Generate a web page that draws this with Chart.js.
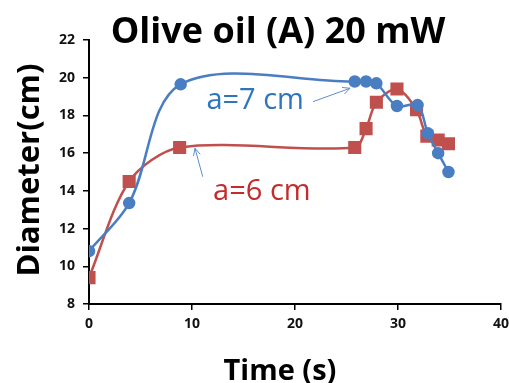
<!DOCTYPE html>
<html>
<head>
<meta charset="utf-8">
<script src="https://cdn.jsdelivr.net/npm/chart.js@4"></script>
<style>
  body { margin: 0; background: #fff; }
  canvas { display: block; }
</style>
</head>
<body>
<canvas id="chart" width="509" height="383"></canvas>
<script>
// data
const timeA7 = [0, 3.9, 8.9, 25.8, 26.9, 27.9, 29.9, 31.9, 32.9, 33.9, 34.9];
const diamA7 = [10.8, 13.35, 19.65, 19.8, 19.8, 19.7, 18.5, 18.55, 17.05, 16.0, 15.0];
const timeA6 = [0, 3.9, 8.8, 25.8, 26.9, 27.9, 29.9, 31.8, 32.8, 33.9, 34.9];
const diamA6 = [9.4, 14.5, 16.3, 16.3, 17.3, 18.7, 19.4, 18.3, 16.9, 16.7, 16.5];
const xTicks = [0, 10, 20, 30, 40];
const yTicks = [8, 10, 12, 14, 16, 18, 20, 22];

const blue = '#4A7EC2';
const red = '#C0504D';
const font = '"Open Sans", "Liberation Sans", sans-serif';

function toPoints(xs, ys) {
    return xs.map((x, i) => ({ x: x, y: ys[i] }));
}

function arrow(ctx, x1, y1, x2, y2) {
    const a = Math.atan2(y2 - y1, x2 - x1);
    const h = 8;
    ctx.beginPath();
    ctx.moveTo(x1, y1);
    ctx.lineTo(x2, y2);
    ctx.moveTo(x2 - h * Math.cos(a - 0.45), y2 - h * Math.sin(a - 0.45));
    ctx.lineTo(x2, y2);
    ctx.lineTo(x2 - h * Math.cos(a + 0.45), y2 - h * Math.sin(a + 0.45));
    ctx.stroke();
}

// titles and the two labels with arrows
const extras = {
    id: 'extras',
    afterDraw(chart) {
        const ctx = chart.ctx;
        const xs = chart.scales.x, ys = chart.scales.y;
        const px = v => xs.getPixelForValue(v);
        const py = v => ys.getPixelForValue(v);
        ctx.save();

        ctx.fillStyle = '#000';
        ctx.textAlign = 'center';
        ctx.textBaseline = 'alphabetic';
        ctx.font = 'bold 36px ' + font;
        ctx.fillText('Olive oil (A) 20 mW', 278, 43);

        ctx.font = 'bold 29px ' + font;
        ctx.fillText('Time (s)', 280, 380);

        ctx.save();
        ctx.translate(39, 170);
        ctx.rotate(-Math.PI / 2);
        ctx.font = 'bold 31px ' + font;
        ctx.fillText('Diameter(cm)', 0, 0);
        ctx.restore();

        ctx.textAlign = 'left';
        ctx.font = '29px ' + font;
        ctx.fillStyle = '#2E75C0';
        ctx.fillText('a=7 cm', px(11.4), py(18.32));
        ctx.fillStyle = '#C42B2B';
        ctx.fillText('a=6 cm', px(12.05), py(13.5));

        ctx.strokeStyle = '#5B8FD0';
        ctx.lineWidth = 1;
        arrow(ctx, px(21.75), py(18.73), px(25.34), py(19.44));
        arrow(ctx, px(11.04), py(14.75), px(10.29), py(16.26));

        ctx.restore();
    }
};

new Chart(document.getElementById('chart'), {
    type: 'scatter',
    data: {
        datasets: [{
            label: 'a=7 cm',
            data: toPoints(timeA7, diamA7),
            showLine: true,
            borderColor: blue,
            backgroundColor: blue,
            borderWidth: 2.5,
            pointStyle: 'circle',
            pointRadius: 5,
            tension: 0.33
        }, {
            label: 'a=6 cm',
            data: toPoints(timeA6, diamA6),
            showLine: true,
            borderColor: red,
            backgroundColor: red,
            borderWidth: 2.5,
            pointStyle: 'rect',
            pointRadius: 7.5,
            tension: 0.3
        }]
    },
    options: {
        responsive: false,
        animation: false,
        layout: { autoPadding: false, padding: { top: 40, right: 8, left: 0, bottom: 0 } },
        plugins: {
            legend: { display: false },
            title: { display: false },
            tooltip: { enabled: false }
        },
        scales: {
            x: {
                type: 'linear',
                min: 0, max: 40,
                afterFit: s => { s.height = 79; s.paddingRight = 0; s.paddingLeft = 0; },
                afterBuildTicks: s => { s.ticks = xTicks.map(v => ({ value: v })); },
                grid: { drawOnChartArea: false, tickLength: 6, color: '#000', lineWidth: 1.5 },
                border: { color: '#000', width: 2 },
                ticks: { color: '#111', padding: 6, font: { family: font, weight: 'bold', size: 14 } }
            },
            y: {
                min: 8, max: 22,
                afterFit: s => { s.width = 89; },
                afterBuildTicks: s => { s.ticks = yTicks.map(v => ({ value: v })); },
                grid: { drawOnChartArea: false, tickLength: 6, color: '#000', lineWidth: 1.5 },
                border: { color: '#000', width: 2 },
                ticks: { color: '#111', padding: 8, font: { family: font, weight: 'bold', size: 14 } }
            }
        }
    },
    plugins: [extras]
});
</script>
</body>
</html>
